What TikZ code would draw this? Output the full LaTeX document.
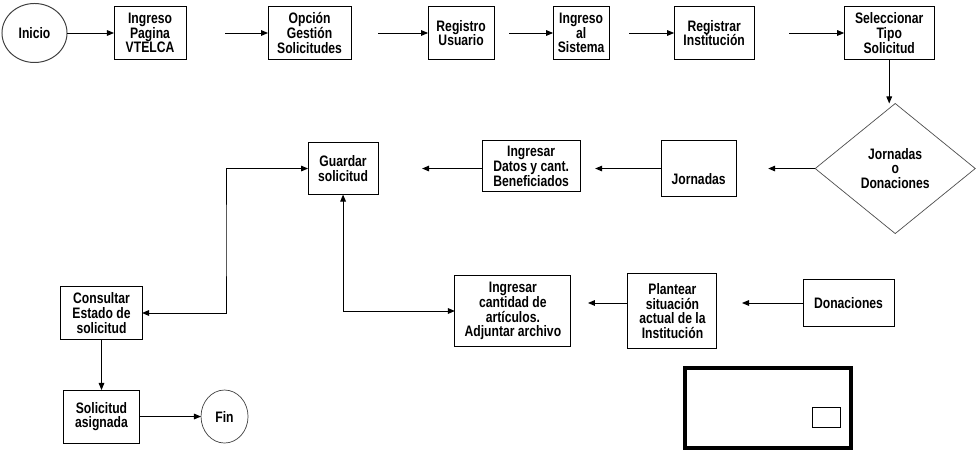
\documentclass[tikz,border=0pt]{standalone}
\usepackage{fontspec}
\setmainfont{Liberation Sans}[FakeStretch=0.8]
\usetikzlibrary{positioning, shapes.geometric, arrows.meta}

\begin{document}
\begin{tikzpicture}[x=0.025cm, y=-0.025cm, >={Triangle[length=5pt,width=4pt]}, line width=0.7pt,
    every node/.style={align=center, inner sep=1pt, outer sep=0pt, font=\fontsize{10.8}{10.5}\selectfont\bfseries},
    box/.style={draw, rectangle}]
    \useasboundingbox (0,0) rectangle (980,451);

    \node (inicio) [draw=black!75, ellipse, minimum width=1.625cm, minimum height=1.475cm] at (34.5,33) {Inicio};
    \node (pagina) [box, right=1.175cm of inicio, minimum width=1.8cm, minimum height=1.3cm] {Ingreso\\Pagina\\VTELCA};
    \node (opcion) [box, right=2.05cm of pagina, minimum width=2.075cm, minimum height=1.3cm] {Opción\\Gestión\\Solicitudes};
    \node (registro) [box, right=1.925cm of opcion, minimum width=1.65cm, minimum height=1.3cm] {Registro\\Usuario};
    \node (sistema) [box, right=1.475cm of registro, minimum width=1.4cm, minimum height=1.325cm] {Ingreso\\al\\Sistema};
    \node (inst) [box, right=1.625cm of sistema, minimum width=2cm, minimum height=1.3cm] {Registrar\\Institución};
    \node (tipo) [box, right=2.25cm of inst, minimum width=2.25cm, minimum height=1.325cm] {Seleccionar\\Tipo\\Solicitud};
    \draw[->] (inicio) -- (pagina);
    \draw[->, shorten <=0.975cm] (pagina) -- (opcion);
    \draw[->, shorten <=0.675cm] (opcion) -- (registro);
    \draw[->, shorten <=0.375cm] (registro) -- (sistema);
    \draw[->, shorten <=0.5cm] (sistema) -- (inst);
    \draw[->, shorten <=0.875cm] (inst) -- (tipo);

    \node (dec) [draw=black!70, line width=0.5pt, diamond, below=1.1cm of tipo, xshift=0.15cm, minimum width=4cm, minimum height=3.25cm] {Jornadas\\o\\Donaciones};
    \node (jorn) [box, left=1.975cm of dec, minimum width=1.875cm, minimum height=1.4cm, text height=23pt, text depth=0pt] {Jornadas};
    \node (datos) [box, left=2.025cm of jorn, yshift=0.06cm, minimum width=2.45cm, minimum height=1.275cm] {Ingresar\\Datos y cant.\\Beneficiados};
    \node (guardar) [box, left=2.6cm of datos, yshift=-0.06cm, minimum width=1.75cm, minimum height=1.3cm] {Guardar\\solicitud};
    \draw[->] (tipo.south) -- (tipo.south |- dec.north);
    \draw[->, shorten >=0.8cm] (dec.west) -- (dec.west -| jorn.east);
    \draw[->, shorten >=0.375cm] (jorn.west) -- (jorn.west -| datos.east);
    \draw[->, shorten >=1.1cm] (guardar.east -| datos.west) -- (guardar.east);

    \node (don) [box, minimum width=2.275cm, minimum height=1.15cm] at (848.5,303) {Donaciones};
    \node (plant) [box, left=2.15cm of don, yshift=-0.2cm, minimum width=2.225cm, minimum height=1.85cm] {Plantear\\situación\\actual de la\\Institución};
    \node (cant) [box, left=1.425cm of plant, minimum width=2.9cm, minimum height=1.775cm] {Ingresar\\cantidad de\\artículos.\\Adjuntar archivo};
    \draw[->, shorten >=0.625cm] (don.west) -- (don.west -| plant.east);
    \draw[->, shorten >=0.425cm] (don.west -| plant.west) -- (don.west -| cant.east);

    \node (consulta) [box, minimum width=2.025cm, minimum height=1.3cm] at (101.5,313) {Consultar\\Estado de\\solicitud};
    \node (asig) [box, below=1.275cm of consulta, minimum width=1.875cm, minimum height=1.325cm] {Solicitud\\asignada};
    \node (fin) [draw=black!75, line width=0.5pt, ellipse, right=1.55cm of asig, minimum width=1.175cm, minimum height=1.325cm] {Fin};
    \coordinate (codo) at (226,240);
    \draw[<->] (guardar.west) -| (codo) |- (consulta.east);
    \draw[<->] (guardar.south) |- (cant.west);
    \draw[->] (consulta.south) -- (consulta.south |- asig.north);
    \draw[->] (asig) -- (fin);

    \node (marco) [draw, line width=2.4pt, minimum width=4.15cm, minimum height=2cm] at (768,408) {};
    \node (mini) [draw, line width=0.6pt, minimum width=0.7cm, minimum height=0.5cm] at (826,417) {};
\end{tikzpicture}
\end{document}
